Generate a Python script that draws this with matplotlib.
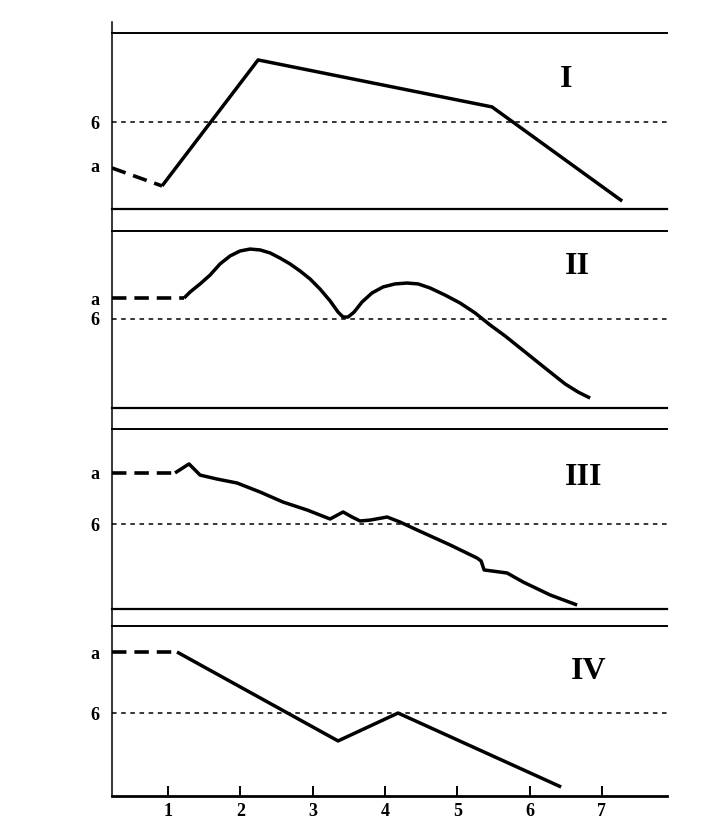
import matplotlib
matplotlib.use("Agg")
import matplotlib.pyplot as plt

# ---------------- data ----------------
x_ticks = [1, 2, 3, 4, 5, 6, 7]
x_tick_labels = ["1", "2", "3", "4", "5", "6", "7"]
panel_names = ["I", "II", "III", "IV"]
ref_labels = ["a", "6"]

# Panel I
p1_dash_x = [0.225, 0.917]
p1_dash_y = [2.33, 1.31]
p1_x = [0.917, 2.245, 5.48, 7.28]
p1_y = [1.31, 8.47, 5.80, 0.45]
p1_a, p1_six = 2.5, 4.94

# Panel II
p2_dash_x = [0.225, 1.221]
p2_dash_y = [6.21, 6.21]
p2_x = [1.221, 1.304, 1.443, 1.581, 1.719, 1.858, 1.996, 2.134, 2.273, 2.411,
        2.549, 2.687, 2.826, 2.964, 3.102, 3.241, 3.351, 3.420, 3.490, 3.573,
        3.683, 3.821, 3.974, 4.140, 4.306, 4.458, 4.624, 4.831, 5.039, 5.246,
        5.454, 5.661, 5.869, 6.076, 6.284, 6.491, 6.671, 6.837]
p2_y = [6.21, 6.55, 7.01, 7.51, 8.14, 8.59, 8.87, 8.98, 8.93, 8.76,
        8.47, 8.14, 7.74, 7.29, 6.72, 6.05, 5.42, 5.14, 5.14, 5.42,
        5.99, 6.50, 6.84, 7.01, 7.06, 7.01, 6.78, 6.38, 5.93, 5.37,
        4.69, 4.07, 3.39, 2.71, 2.03, 1.36, 0.90, 0.56]
p2_a, p2_six = 6.21, 5.03

# Panel III
p3_dash_x = [0.225, 1.097]
p3_dash_y = [7.56, 7.56]
p3_x = [1.097, 1.290, 1.443, 1.678, 1.954, 2.272, 2.591, 2.923, 3.241, 3.421,
        3.545, 3.656, 3.795, 4.030, 4.209, 4.444, 4.900, 5.274, 5.329, 5.371,
        5.689, 5.910, 6.284, 6.657]
p3_y = [7.56, 8.06, 7.44, 7.22, 7.00, 6.50, 5.94, 5.50, 5.00, 5.39,
        5.11, 4.89, 4.94, 5.11, 4.83, 4.39, 3.56, 2.83, 2.67, 2.17,
        2.00, 1.50, 0.78, 0.22]
p3_a, p3_six = 7.58, 4.72

# Panel IV
p4_dash_x = [0.225, 1.124]
p4_dash_y = [8.47, 8.47]
p4_x = [1.124, 3.351, 4.181, 6.436]
p4_y = [8.47, 3.24, 4.88, 0.53]
p4_a, p4_six = 8.47, 4.88

panels = [
    (p1_dash_x, p1_dash_y, p1_x, p1_y, p1_a, p1_six),
    (p2_dash_x, p2_dash_y, p2_x, p2_y, p2_a, p2_six),
    (p3_dash_x, p3_dash_y, p3_x, p3_y, p3_a, p3_six),
    (p4_dash_x, p4_dash_y, p4_x, p4_y, p4_a, p4_six),
]

# ---------------- layout (pixels) ----------------
W, H = 702, 835
left_px, right_px = 112, 667
axis_top_px, axis_bot_px = 22, 796
panel_px = [(33, 209), (231, 408), (429, 609), (626, 796)]
name_pos = [(0.818, 0.733), (0.838, 0.797), (0.849, 0.733), (0.858, 0.735)]
XLIM = (0.225, 7.90)

plt.rcParams["font.family"] = ["Liberation Serif", "DejaVu Serif"]

fig = plt.figure(figsize=(W / 100, H / 100), dpi=100)
fig.patch.set_facecolor("white")

# base axes: left vertical line + bottom x-axis
base = fig.add_axes([left_px / W, (H - axis_bot_px) / H,
                     (right_px - left_px) / W, (axis_bot_px - axis_top_px) / H])
base.set_xlim(*XLIM)
base.set_ylim(0, 1)
base.set_facecolor("none")
for s in ["top", "right"]:
    base.spines[s].set_visible(False)
base.spines["left"].set_linewidth(1.1)
base.spines["bottom"].set_linewidth(2.0)
base.set_yticks([])
base.set_xticks(x_ticks)
base.set_xticklabels(x_tick_labels, fontsize=13, fontweight="bold")
base.tick_params(axis="x", direction="in", length=7, width=1.4, pad=5)

for i, (dx, dy, px, py, a_lvl, six_lvl) in enumerate(panels):
    top, bot = panel_px[i]
    ax = fig.add_axes([left_px / W, (H - bot) / H,
                       (right_px - left_px) / W, (bot - top) / H])
    ax.set_facecolor("none")
    ax.set_xlim(*XLIM)
    ax.set_ylim(0, 10)
    ax.spines["left"].set_visible(False)
    ax.spines["right"].set_visible(False)
    ax.spines["top"].set_linewidth(1.4)
    ax.spines["bottom"].set_linewidth(1.6)
    if i == 3:
        ax.spines["bottom"].set_visible(False)
    ax.set_xticks([])
    ax.set_yticks([a_lvl, six_lvl])
    ax.set_yticklabels(ref_labels, fontsize=13, fontweight="bold")
    ax.tick_params(axis="y", length=0, pad=9)

    ax.axhline(six_lvl, color="black", lw=1.1, linestyle=(0, (3, 3)))
    ax.plot(dx, dy, color="black", lw=2.6, linestyle=(0, (4, 2.2)),
            solid_capstyle="butt", dash_capstyle="butt")
    ax.plot(px, py, color="black", lw=2.5, solid_joinstyle="round",
            solid_capstyle="butt")
    ax.text(name_pos[i][0], name_pos[i][1], panel_names[i],
            transform=ax.transAxes, ha="center", va="center",
            fontsize=23, fontweight="bold")

fig.savefig("out.png", dpi=100, facecolor="white")
